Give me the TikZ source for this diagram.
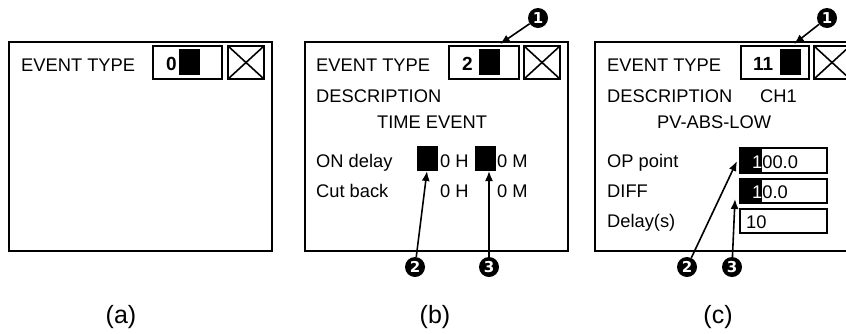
\documentclass[tikz,border=0pt]{standalone}
\usepackage{fontspec}
\setmainfont{Liberation Sans}
\newfontfamily\markfont{DejaVu Sans}
\usetikzlibrary{arrows.meta}
\begin{document}
\begin{tikzpicture}[x=1pt,y=-1pt,
 panel/.style={draw, line width=2pt},
 field/.style={draw, line width=2pt},
 xbox/.style={draw, line width=1.6pt},
 cursor/.style={fill=black},
 lbl/.style={anchor=base west, inner sep=0, font=\fontsize{18.3}{20}\selectfont},
 val/.style={anchor=base west, inner sep=0, font=\fontsize{19}{20}\selectfont\bfseries},
 captxt/.style={inner sep=0, font=\fontsize{25}{28}\selectfont},
 marker/.style={circle, fill=black, text=white, inner sep=0, minimum size=20pt, font=\markfont\fontsize{15}{16}\selectfont\bfseries},
 callout/.style={-{Latex[length=10pt,width=8pt]}, line width=1.6pt}
]
\useasboundingbox (0,0) rectangle (846,333);
\clip (0,0) rectangle (846,333);
\fill[white] (0,0) rectangle (846,333);

% ---------------- panel (a)
\draw[panel] (9,42) rectangle (272,251);
\node[lbl] (aet) at (21,71.5) {EVENT TYPE};
\draw[field] (153,46) rectangle (222,79);
\fill[cursor] (179,49) rectangle (200,75);
\node[val] (av) at (166,70) {0};
\draw[xbox] (228,46) rectangle (264,79);
\draw[xbox] (228,46) -- (264,79) (228,79) -- (264,46);
\node[captxt] (ca) at (121,317) {(a)};

% ---------------- panel (b)
\draw[panel] (305,42) rectangle (568,251);
\node[lbl] (bet) at (316,71.5) {EVENT TYPE};
\draw[field] (449,46) rectangle (519,79);
\fill[cursor] (479,49) rectangle (500,75);
\node[val] (bv) at (462,70) {2};
\draw[xbox] (524,46) rectangle (560,79);
\draw[xbox] (524,46) -- (560,79) (524,79) -- (560,46);
\node[lbl] (bdesc) at (316,102) {DESCRIPTION};
\node[lbl] (btime) at (377,128) {TIME EVENT};
\node[lbl] (bon) at (316,167) {ON delay};
\fill[cursor] (417,146) rectangle (438,171);
\node[lbl] (bonh) at (440,167) {0 H};
\fill[cursor] (475,146) rectangle (496,171);
\node[lbl] (bonm) at (497,167) {0 M};
\node[lbl] (bcut) at (316,197) {Cut back};
\node[lbl] (bcuth) at (440,197) {0 H};
\node[lbl] (bcutm) at (497,197) {0 M};
\node[marker] (b1) at (538,18) {1};
\node[marker] (b2) at (415,267) {2};
\node[marker] (b3) at (489,267) {3};
\coordinate (b1t) at (500,44);
\coordinate (b2t) at (427,171);
\coordinate (b3t) at (489,171);
\draw[callout] (b1) -- (b1t);
\draw[callout] (b2) -- (b2t);
\draw[callout] (b3) -- (b3t);
\node[captxt] (cb) at (435,317) {(b)};

% ---------------- panel (c)
\draw[panel] (595,42) rectangle (858,251);
\node[lbl] (cet) at (607,71.5) {EVENT TYPE};
\draw[field] (741,46) rectangle (809,79);
\fill[cursor] (780,49) rectangle (801,75);
\node[val] (cv) at (753,70) {11};
\draw[xbox] (814,46) rectangle (850,79);
\draw[xbox] (814,46) -- (850,79) (814,79) -- (850,46);
\node[lbl] (cdesc) at (607,102) {DESCRIPTION};
\node[lbl] (cch) at (760,102) {CH1};
\node[lbl] (cpv) at (657,128) {PV-ABS-LOW};
\node[lbl] (cop) at (607,167) {OP point};
\fill[cursor] (740,148) rectangle (762,173);
\draw[field] (740,148) rectangle (827,173);
\node[lbl] (copv) at (752,168) {\textcolor{white}{1}00.0};
\node[lbl] (cdiff) at (607,197) {DIFF};
\fill[cursor] (740,179) rectangle (762,203);
\draw[field] (740,179) rectangle (827,203);
\node[lbl] (cdiffv) at (752,198) {\textcolor{white}{1}0.0};
\node[lbl] (cdel) at (607,227) {Delay(s)};
\draw[field] (740,209) rectangle (827,233);
\node[lbl] (cdelv) at (746,228) {10};
\node[marker] (c1) at (827,18) {1};
\node[marker] (c2) at (687,267) {2};
\node[marker] (c3) at (732,267) {3};
\coordinate (c1t) at (794,44);
\coordinate (c2t) at (737,161);
\coordinate (c3t) at (735,199);
\draw[callout] (c1) -- (c1t);
\draw[callout] (c2) -- (c2t);
\draw[callout] (c3) -- (c3t);
\node[captxt] (cc) at (718,317) {(c)};
\end{tikzpicture}
\end{document}
